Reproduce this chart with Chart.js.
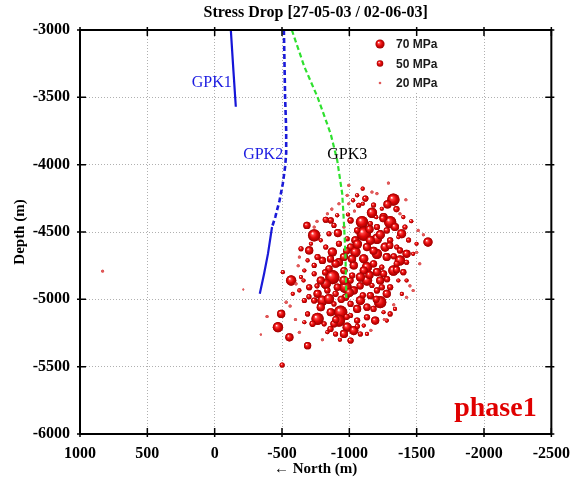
<!DOCTYPE html>
<html>
<head>
<meta charset="utf-8">
<script src="https://cdn.jsdelivr.net/npm/chart.js@4.4.0/dist/chart.umd.min.js"></script>
<style>
  html, body { margin: 0; padding: 0; background: #fff; }
</style>
</head>
<body>
<canvas id="chart" width="580" height="480"></canvas>
<script>
// seismic events: north (m), depth (m), stress drop (MPa)
const evNorth = [
  -1327, -1283, -1290, -1099, -1058, -1070, -1119, -1168, -1028, -984,
  -1038, -996, -923, -910, -837, -862, -825, -685, -739, -1094,
  -1107, -1303, -1339, -1388, -1401, -1584, -1499, -1205, -1266, -1156,
  -1045, -1009, -915, -849, -788, -715, -641, -702, -800, -874,
  -923, -1045, -1107, -1131, -1205, -1278, -1376, -1425, -1327, -1401,
  -1205, -1107, -1033, -960, -874, -825, -788, -739, -641, -568,
  -506, -702, -764, -800, -849, -972, -1033, -1131, -1229, -1303,
  -1278, -1229, -1156, -1082, -1058, -1009, -935, -923, -984, -1033,
  -960, -1009, -1131, -1192, -1303, -1339, -788, -764, -727, -666,
  -494, -470, -555, -690, -629, -837, -898, -1107, -1254, -1241,
  -1364, -1425, -1474, -1352, -1474, -1425, -690, -629, -604, -739,
  -960, -996, -1168, -1241, -1376, -1364, -1413, -984, -1021, -960,
  -898, -849, -1168, -1205, -1131, -972, -898, -886, -666, -580,
  -531, 832, -213, -389, -343, -501,
  -886, -1009, -1205, -1254, -1131, -1082, -1180, -1254, -1303, -1376,
  -960, -1009, -911, -837, -739, -862, -886, -1058, -1180, -1241,
  -1352, -1278, -1156, -1058, -923, -825, -764, -739, -666, -629,
  -690, -813, -1009, -1082, -1131, -1278, -1425, -1523, -1511, -1205,
  -1150, -1230, -1300, -1180, -1060, -980, -1020, -1150, -1080, -1000,
  -940, -1100, -1200, -1280, -1350, -1330, -1440, -1250, -1350, -860,
  -820, -760, -900, -980, -1060, -860, -700, -660, -1180, -1100,
  -990, -1460, -1500, -1450, -1390, -1330, -1260, -1160, -930, -800,
  -600, -560, -620, -760, -870, -1420, -1550, -1200
];
const evDepth = [
  -4260, -4295, -4136, -4178, -4228, -4302, -4252, -4357, -4265, -4228,
  -4344, -4290, -4290, -4376, -4364, -4414, -4409, -4451, -4525, -4426,
  -4513, -4426, -4463, -4513, -4389, -4575, -4587, -4550, -4612, -4562,
  -4562, -4612, -4508, -4513, -4562, -4587, -4624, -4637, -4711, -4649,
  -4724, -4649, -4699, -4761, -4662, -4686, -4711, -4662, -4786, -4798,
  -4798, -4786, -4748, -4786, -4835, -4885, -4860, -4810, -4835, -4860,
  -4798, -4910, -4959, -5009, -4996, -4910, -4934, -4860, -4860, -4910,
  -4959, -5021, -4972, -5009, -5071, -5034, -5096, -5158, -5207, -5232,
  -5257, -5120, -5133, -5158, -5108, -5071, -5058, -5145, -5182, -5170,
  -5108, -5207, -5282, -5344, -5244, -5244, -5257, -5195, -5096, -4761,
  -4860, -4860, -4934, -4612, -4662, -4724, -4711, -4686, -4885, -4463,
  -4463, -4153, -4203, -4327, -4364, -4538, -4463, -4550, -4823, -4686,
  -4736, -4773, -4897, -4934, -5058, -4984, -4959, -5034, -5009, -4959,
  -5021, -4791, -4927, -5128, -5262, -5487,
  -4451, -4414, -4463, -4389, -4612, -4835, -4736, -4810, -4562, -4637,
  -4860, -4860, -4910, -4934, -5009, -5096, -5182, -5158, -5071, -4910,
  -4736, -4488, -4438, -4488, -4587, -4612, -4686, -4748, -4786, -4934,
  -5108, -5182, -5306, -5257, -5257, -5158, -4984, -4736, -4488, -4215,
  -4480, -4520, -4600, -4640, -4590, -4640, -4700, -4820, -4900, -4950,
  -5000, -4970, -5000, -4850, -4780, -4680, -4560, -4400, -4330, -4700,
  -4800, -4900, -5150, -5130, -5200, -5220, -4980, -4860, -4300, -4290,
  -4370, -4420, -4650, -4900, -4960, -5040, -5150, -5230, -5300, -5300,
  -5150, -5050, -4750, -4420, -4330, -4260, -4520, -4390
];
const evStress = [
  80, 53, 20, 27, 27, 33, 40, 67, 27, 20,
  20, 20, 20, 27, 20, 40, 40, 47, 80, 80,
  93, 80, 53, 60, 27, 60, 27, 67, 60, 60,
  53, 47, 53, 33, 27, 27, 33, 53, 47, 60,
  53, 67, 60, 67, 67, 53, 67, 53, 67, 40,
  53, 53, 53, 47, 93, 67, 53, 33, 27, 67,
  27, 40, 53, 67, 67, 80, 53, 67, 53, 40,
  53, 80, 47, 60, 53, 40, 87, 80, 60, 60,
  53, 33, 40, 53, 33, 27, 53, 80, 40, 27,
  53, 67, 53, 47, 20, 27, 33, 27, 27, 33,
  27, 27, 20, 33, 27, 33, 27, 20, 20, 20,
  20, 20, 20, 27, 20, 27, 33, 33, 40, 53,
  53, 47, 33, 40, 47, 47, 40, 33, 33, 27,
  20, 18, 12, 20, 15, 33,
  33, 40, 40, 53, 53, 60, 47, 47, 40, 40,
  60, 40, 47, 40, 40, 53, 47, 40, 40, 40,
  40, 40, 33, 40, 40, 33, 40, 33, 27, 27,
  33, 33, 40, 33, 27, 27, 20, 20, 20, 20,
  53, 60, 47, 53, 60, 47, 53, 53, 47, 60,
  47, 40, 47, 40, 47, 40, 33, 47, 40, 47,
  40, 33, 47, 40, 33, 40, 33, 27, 33, 27,
  27, 27, 20, 20, 27, 20, 20, 20, 27, 20,
  20, 20, 20, 20, 20, 20, 20, 27
];

// well trajectories
const gpk1North = [-120, -139, -157];
const gpk1Depth = [-3000, -3298, -3570];
const gpk2UpNorth = [-514, -523, -531, -531, -523, -506, -482, -450, -426];
const gpk2UpDepth = [-3000, -3496, -3744, -3915, -4017, -4141, -4265, -4389, -4463];
const gpk2LowNorth = [-426, -396, -367, -335];
const gpk2LowDepth = [-4463, -4661, -4810, -4959];
const gpk3North = [-573, -666, -763, -861, -910, -947, -959, -971, -978];
const gpk3Depth = [-3000, -3273, -3496, -3769, -3967, -4215, -4414, -4661, -4990];

const legendStress = [70, 50, 20];
const legendLabels = ['70 MPa', '50 MPa', '20 MPa'];

const xTicks = [1000, 500, 0, -500, -1000, -1500, -2000, -2500];
const yTicks = [-3000, -3500, -4000, -4500, -5000, -5500, -6000];

const serif = "'Liberation Serif', 'Times New Roman', serif";
const sans = "'Liberation Sans', Arial, sans-serif";

const toRadius = s => s / 13;
const pts = (xs, ys) => xs.map((x, i) => ({ x, y: ys[i] }));

function sphere(ctx, x, y, r) {
  ctx.beginPath();
  ctx.arc(x, y, r, 0, Math.PI * 2);
  if (r < 1.6) {
    ctx.fillStyle = '#e05a5a';
  } else {
    const g = ctx.createRadialGradient(x - r * 0.3, y - r * 0.35, r * 0.05, x, y, r);
    g.addColorStop(0, '#fff4f4');
    g.addColorStop(0.22, '#ff4040');
    g.addColorStop(0.55, '#e00808');
    g.addColorStop(1, '#9a0000');
    ctx.fillStyle = g;
  }
  ctx.fill();
}

const decor = {
  id: 'decor',
  afterDatasetDraw(chart, args) {
    if (args.meta.type !== 'bubble') return;
    const ctx = chart.ctx;
    const area = chart.chartArea;
    ctx.save();
    ctx.beginPath();
    ctx.rect(area.left, area.top, area.right - area.left, area.bottom - area.top);
    ctx.clip();
    args.meta.data.forEach(el => sphere(ctx, el.x, el.y, el.options.radius));
    ctx.restore();
  },
  afterDraw(chart) {
    const ctx = chart.ctx;
    const { left, right, top, bottom } = chart.chartArea;
    const sx = chart.scales.x, sy = chart.scales.y;
    ctx.save();

    // legend box
    ctx.fillStyle = '#fff';
    ctx.fillRect(366, 34, 112, 58);
    legendStress.forEach((s, i) => {
      const y = 44 + i * 19.5;
      sphere(ctx, 380, y, toRadius(s) * 0.85);
      ctx.fillStyle = '#1a1a1a';
      ctx.font = 'bold 12px ' + sans;
      ctx.textAlign = 'left';
      ctx.textBaseline = 'middle';
      ctx.fillText(legendLabels[i], 396, y + 1);
    });

    // frame and ticks
    ctx.strokeStyle = '#000';
    ctx.lineWidth = 2;
    ctx.strokeRect(left, top, right - left, bottom - top);
    ctx.lineWidth = 1.5;
    ctx.beginPath();
    xTicks.forEach(v => {
      const px = sx.getPixelForValue(v);
      ctx.moveTo(px, bottom + 3); ctx.lineTo(px, bottom - 6);
      ctx.moveTo(px, top - 3); ctx.lineTo(px, top + 6);
    });
    yTicks.forEach(v => {
      const py = sy.getPixelForValue(v);
      ctx.moveTo(left - 3, py); ctx.lineTo(left + 6, py);
      ctx.moveTo(right + 3, py); ctx.lineTo(right - 6, py);
    });
    ctx.stroke();

    // title
    ctx.fillStyle = '#000';
    ctx.textAlign = 'center';
    ctx.textBaseline = 'middle';
    ctx.font = 'bold 16px ' + serif;
    ctx.fillText('Stress Drop [27-05-03 / 02-06-03]', (left + right) / 2, 13);

    // axis titles
    ctx.font = 'bold 15px ' + serif;
    ctx.fillText('\u2190 North (m)', (left + right) / 2, 469);
    ctx.save();
    ctx.translate(20, (top + bottom) / 2);
    ctx.rotate(-Math.PI / 2);
    ctx.fillText('Depth (m)', 0, 0);
    ctx.restore();

    // well labels
    ctx.font = '16px ' + serif;
    ctx.fillStyle = '#1a1ae0';
    ctx.fillText('GPK1', sx.getPixelForValue(22), sy.getPixelForValue(-3394));
    ctx.fillText('GPK2', sx.getPixelForValue(-360), sy.getPixelForValue(-3923));
    ctx.fillStyle = '#000';
    ctx.fillText('GPK3', sx.getPixelForValue(-984), sy.getPixelForValue(-3923));

    // phase label
    ctx.font = 'bold 28px ' + serif;
    ctx.fillStyle = '#e00000';
    ctx.fillText('phase1', sx.getPixelForValue(-2085), sy.getPixelForValue(-5812));
    ctx.restore();
  }
};

const events = evNorth.map((x, i) => ({ x, y: evDepth[i], r: toRadius(evStress[i]) }));

const wellLine = (label, data, color, dash, width) => ({
  type: 'scatter',
  label,
  data,
  showLine: true,
  borderColor: color,
  backgroundColor: color,
  borderWidth: width,
  borderDash: dash,
  pointRadius: 0,
  order: 0
});

new Chart(document.getElementById('chart'), {
  type: 'scatter',
  data: {
    datasets: [
      {
        type: 'bubble',
        label: 'Stress drop',
        data: events,
        backgroundColor: '#d01010',
        borderWidth: 0,
        order: 1
      },
      wellLine('GPK1', pts(gpk1North, gpk1Depth), '#1515d8', [], 2.2),
      wellLine('GPK2', pts(gpk2UpNorth, gpk2UpDepth), '#1a1ad8', [5, 3], 2.6),
      wellLine('GPK2 lower', pts(gpk2LowNorth, gpk2LowDepth), '#1a1ad8', [], 2.2),
      wellLine('GPK3', pts(gpk3North, gpk3Depth), '#2ee02e', [5, 3], 2.2)
    ]
  },
  options: {
    responsive: false,
    animation: false,
    layout: { padding: { top: 30, right: 23, left: 0, bottom: 0 } },
    plugins: { legend: { display: false }, tooltip: { enabled: false }, title: { display: false } },
    scales: {
      x: {
        type: 'linear',
        reverse: true,
        min: -2500,
        max: 1000,
        afterBuildTicks: s => { s.ticks = xTicks.map(value => ({ value })); },
        afterFit: s => { s.height = 46; },
        ticks: {
          callback: v => String(v),
          color: '#000',
          font: { family: serif, size: 16, weight: 'bold' },
          padding: 10,
          maxRotation: 0,
          autoSkip: false
        },
        grid: { color: '#b0b0b0', drawTicks: false },
        border: { display: false, dash: [1, 2] }
      },
      y: {
        type: 'linear',
        min: -6000,
        max: -3000,
        afterBuildTicks: s => { s.ticks = yTicks.map(value => ({ value })); },
        afterFit: s => { s.width = 80; },
        ticks: {
          callback: v => String(v),
          color: '#000',
          font: { family: serif, size: 16, weight: 'bold' },
          padding: 10,
          autoSkip: false
        },
        grid: { color: '#b0b0b0', drawTicks: false },
        border: { display: false, dash: [1, 2] }
      }
    }
  },
  plugins: [decor]
});
</script>
</body>
</html>
